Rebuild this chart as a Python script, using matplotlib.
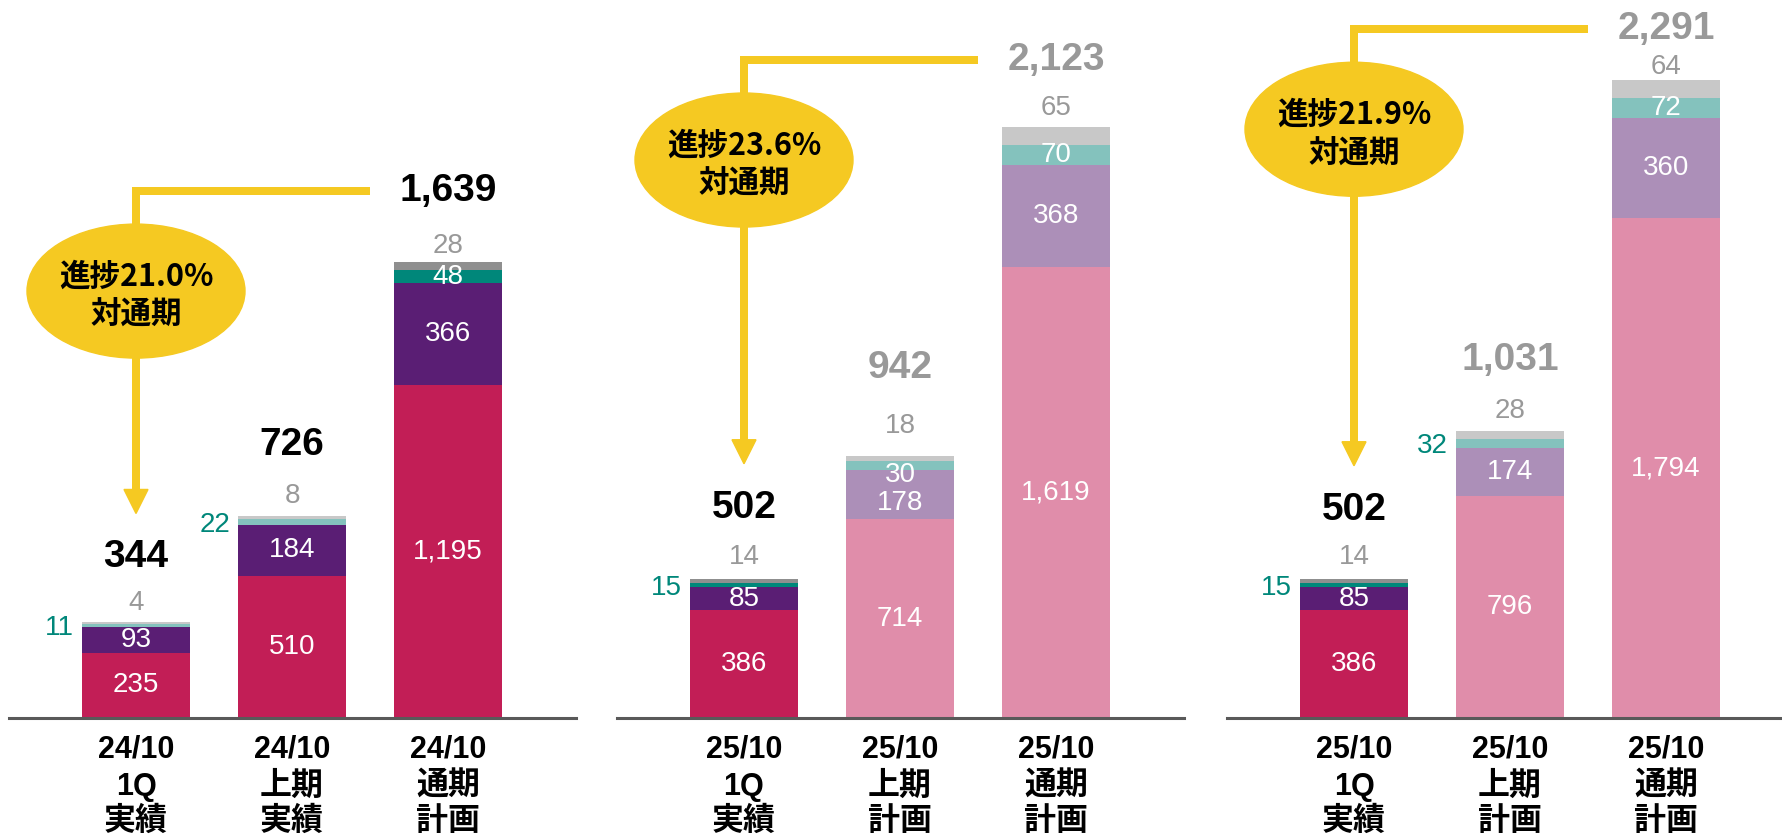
import numpy as np
import matplotlib.pyplot as plt
from matplotlib.patches import Ellipse, Polygon

plt.rcParams['font.family'] = ['Liberation Sans', 'Noto Sans CJK JP', 'DejaVu Sans']

# ---------------------------------------------------------------------------
# Data (three panels x three bars, stacked from the bottom up)
# ---------------------------------------------------------------------------
seg_main = [[235, 510, 1195], [386, 714, 1619], [386, 796, 1794]]
seg_purple = [[93, 184, 366], [85, 178, 368], [85, 174, 360]]
seg_teal = [[11, 22, 48], [15, 30, 70], [15, 32, 72]]
seg_other = [[4, 8, 28], [14, 18, 65], [14, 28, 64]]
totals = [[344, 726, 1639], [502, 942, 2123], [502, 1031, 2291]]
progress = ['21.0%', '23.6%', '21.9%']
cat_labels = [
    [('24/10', '1Q', '実績'), ('24/10', '上期', '実績'), ('24/10', '通期', '計画')],
    [('25/10', '1Q', '実績'), ('25/10', '上期', '計画'), ('25/10', '通期', '計画')],
    [('25/10', '1Q', '実績'), ('25/10', '上期', '計画'), ('25/10', '通期', '計画')],
]

# ---------------------------------------------------------------------------
# Styles
# ---------------------------------------------------------------------------
palette = {
    'dark': ['#C21E56', '#5A1E74', '#00877A', '#8F8F8F'],
    'mix': ['#C21E56', '#5A1E74', '#84C2BD', '#C8C8C8'],
    'light': ['#E08DAA', '#AC8FB8', '#84C2BD', '#C8C8C8'],
}
bar_kind = [['mix', 'mix', 'dark'], ['dark', 'light', 'light'], ['dark', 'light', 'light']]
total_color = [['black', 'black', 'black'], ['black', '#999999', '#999999'],
               ['black', '#999999', '#999999']]
teal_outside = [[True, True, False], [True, False, False], [True, True, False]]
gray_gap = [[19, 20, 16], [22, 30, 19], [22, 20, 13]]       # px above bar top
total_gap = [[65, 71, 71], [71, 88, 67], [69, 71, 51]]      # px above bar top
nudge = {(1, 1, 1): -9, (1, 1, 2): -10}                     # px shifts of inner labels

YELLOW = '#F5C922'
TEAL_TXT = '#00877A'
GRAY_TXT = '#999999'

W, H, DPI = 1783, 836, 100
BASE = 718                  # baseline, px from top
PANEL_W = 567
panel_x0 = [9, 617, 1227]
PX_PER_UNIT = 0.2785
BAR_STEP = 156
FIRST_BAR = 127
BAR_W = 108 / BAR_STEP

uy = 1 / PX_PER_UNIT        # data units per pixel (y)
ux = 1 / BAR_STEP           # data units per pixel (x)

fig = plt.figure(figsize=(W / DPI, H / DPI), dpi=DPI)

for p in range(3):
    ax = fig.add_axes([panel_x0[p] / W, (H - BASE) / H, PANEL_W / W, BASE / H])
    xl = -FIRST_BAR / BAR_STEP
    ax.set_xlim(xl, xl + PANEL_W / BAR_STEP)
    ax.set_ylim(0, BASE / PX_PER_UNIT)
    ax.set_axis_off()

    x = np.arange(3)
    segments = [seg_main[p], seg_purple[p], seg_teal[p], seg_other[p]]
    bottom = np.zeros(3)
    for s, vals in enumerate(segments):
        cols = [palette[bar_kind[p][i]][s] for i in range(3)]
        ax.bar(x, vals, bottom=bottom, width=BAR_W, color=cols, zorder=2)
        for i in range(3):
            v = vals[i]
            yc = bottom[i] + v / 2 + nudge.get((p, i, s), 0) * uy
            if s in (0, 1) or (s == 2 and not teal_outside[p][i]):
                ax.text(i, yc, f'{v:,}', color='white', ha='center', va='center',
                        fontsize=20, zorder=3)
            elif s == 2:
                ax.annotate(f'{v:,}', xy=(i - BAR_W / 2, yc - 3 * uy),
                            xytext=(-8, 0), textcoords='offset pixels',
                            color=TEAL_TXT, ha='right', va='center', fontsize=20)
        bottom = bottom + np.array(vals)

    tops = bottom
    for i in range(3):
        ax.annotate(f'{seg_other[p][i]:,}', xy=(i, tops[i]), xytext=(0, gray_gap[p][i]),
                    textcoords='offset pixels', color=GRAY_TXT, ha='center',
                    va='center', fontsize=20)
        ax.annotate(f'{totals[p][i]:,}', xy=(i, tops[i]), xytext=(0, total_gap[p][i]),
                    textcoords='offset pixels', color=total_color[p][i], ha='center',
                    va='center', fontsize=28, fontweight='bold')
        for k, line in enumerate(cat_labels[p][i]):
            size = 22 if line.isascii() else 23
            ax.annotate(line, xy=(i, 0), xytext=(0, -[31, 69, 104][k]),
                        textcoords='offset pixels', ha='center', va='center',
                        fontsize=size, fontweight='bold', annotation_clip=False)

    ax.axhline(0, color='#595959', lw=2.2, zorder=4, clip_on=False)

    # progress callout: line from the full-year total down to the 1Q bar
    line_y = tops[2] + total_gap[p][2] * uy
    tip_y = tops[0] + (total_gap[p][0] + 44) * uy
    head = 24
    ax.plot([1.5, 0, 0], [line_y, line_y, tip_y + head * uy], color=YELLOW,
            lw=8 * 72 / DPI, solid_joinstyle='miter', solid_capstyle='butt',
            clip_on=False, zorder=5)
    ax.add_patch(Polygon([(-12 * ux, tip_y + head * uy), (12 * ux, tip_y + head * uy),
                          (0, tip_y)], closed=True, color=YELLOW, zorder=5,
                         clip_on=False))
    ell_y = line_y - 100 * uy
    ax.add_patch(Ellipse((0, ell_y), 218 * ux, 134 * uy, color=YELLOW, zorder=6,
                         clip_on=False))
    ax.text(0, ell_y - 5 * uy, f'進捗{progress[p]}\n対通期', ha='center', va='center',
            fontsize=22, fontweight='bold', family=['Noto Sans CJK JP'],
            linespacing=1.25, zorder=7)

fig.savefig('out.png', dpi=DPI)
